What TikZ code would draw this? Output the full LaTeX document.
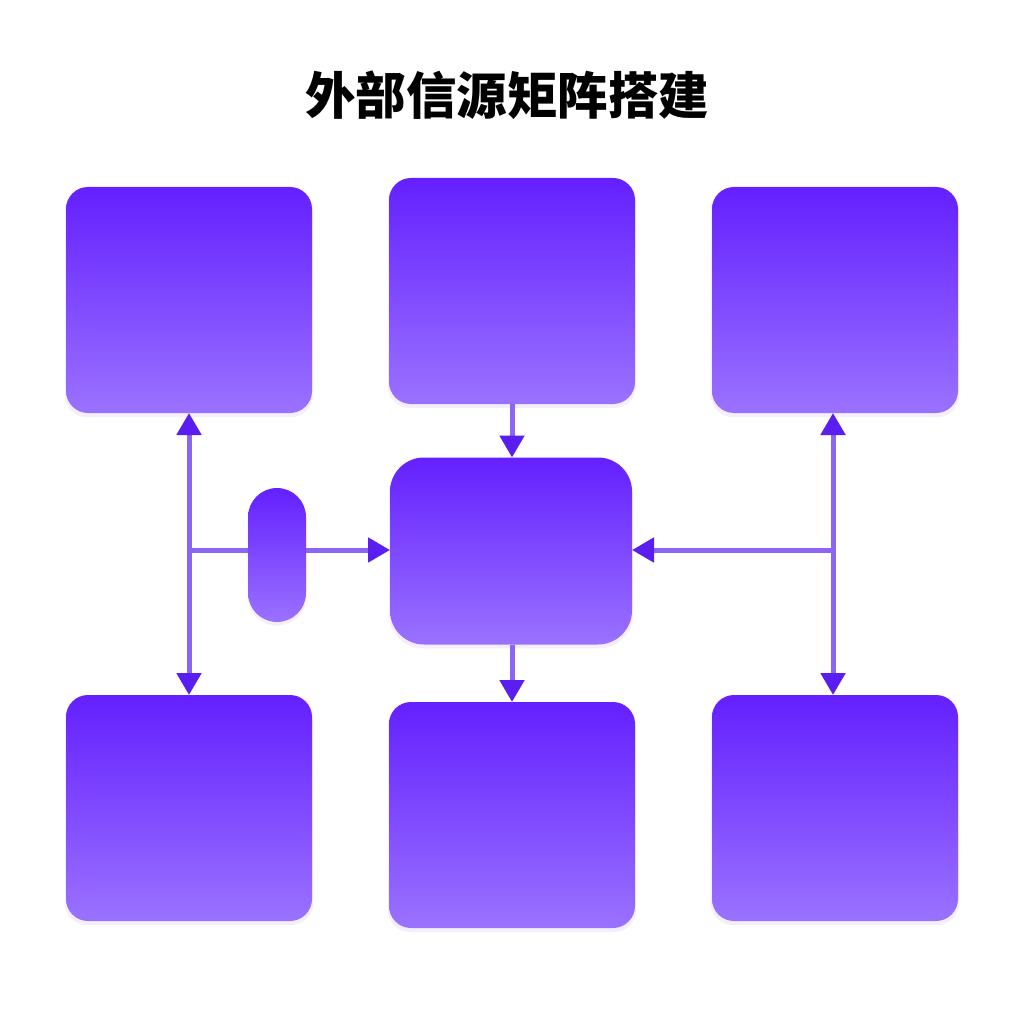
\documentclass[tikz,border=0pt]{standalone}
\usepackage{fontspec}
\newfontfamily\titlefont{Noto Sans CJK SC Black}
\usetikzlibrary{arrows.meta,shadows}
\definecolor{boxtop}{HTML}{6420FF}
\definecolor{boxbot}{HTML}{9A72FF}
\definecolor{linkc}{HTML}{8A66F2}
\definecolor{tipc}{HTML}{5A1EF0}
\tikzset{
  box/.style={
    rectangle,
    rounded corners=22pt,
    minimum width=246pt,
    minimum height=226pt,
    inner sep=0pt,
    outer sep=0pt,
    top color=boxtop,
    bottom color=boxbot,
    draw=none,
    drop shadow={shadow xshift=0pt,shadow yshift=-3pt,shadow scale=1.01,opacity=0.07,fill=boxtop}
  },
  pill/.style={
    box,
    rounded corners=29pt,
    minimum width=58pt,
    minimum height=134pt
  },
  link/.style={
    line width=5pt,
    draw=linkc,
    arrows={-Triangle[length=22pt,width=24pt,color=tipc]}
  },
  twoway/.style={
    link,
    arrows={Triangle[length=22pt,width=24pt,color=tipc]-Triangle[length=22pt,width=24pt,color=tipc]}
  }
}

\begin{document}
\begin{tikzpicture}[x=1pt,y=-1pt]
    \useasboundingbox[fill=white] (0,0) rectangle (1024,1024);
    \node[font=\titlefont\fontsize{50.5}{54}\selectfont] (title) at (507,95) {外部信源矩阵搭建};
    % outer boxes
    \node[box] (tl) at (189,300) {};
    \node[box] (tm) at (512,291) {};
    \node[box] (tr) at (835,300) {};
    \node[box] (bl) at (189,808) {};
    \node[box] (bm) at (512,815) {};
    \node[box] (br) at (835,808) {};
    % centre
    \node[box,minimum width=242pt,minimum height=187pt,rounded corners=34pt] (hub) at (511,551) {};
    \coordinate (jl) at (189,550);
    \coordinate (jr) at (833,550);
    % links
    \draw[twoway] (tl.south) -- (bl.north);
    \draw[twoway] (tr.south -| jr) -- (br.north -| jr);
    \draw[link] (jl) -- (hub.west |- jl);
    \draw[link] (jr) -- (hub.east |- jr);
    \draw[link] (tm.south) -- (hub.north -| tm.south);
    \draw[link] (hub.south -| bm.north) -- (bm.north);
    \node[pill] (relay) at (277,555) {};
\end{tikzpicture}
\end{document}
